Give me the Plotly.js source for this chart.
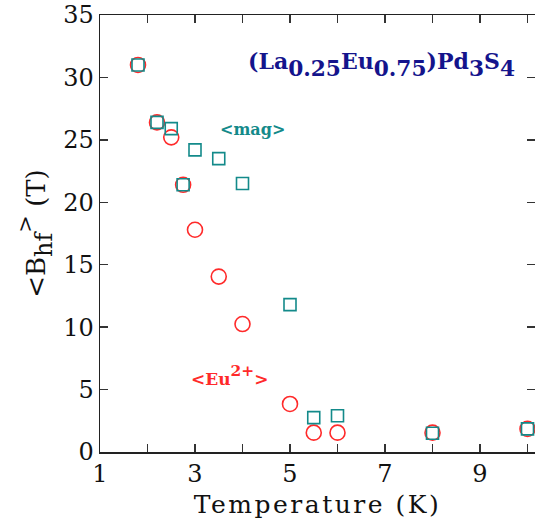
<!DOCTYPE html>
<html>
<head>
<meta charset="utf-8">
<script src="https://cdn.plot.ly/plotly-3.0.1.min.js"></script>
<style>
html,body{margin:0;padding:0;background:#fff;overflow:hidden;}
#chart{width:535px;height:525px;}
</style>
</head>
<body>
<div id="chart"></div>
<script>
// Temperature (K)
const temperature = [1.8, 2.2, 2.5, 2.75, 3.0, 3.5, 4.0, 5.0, 5.5, 6.0, 8.0, 10.0];
// <Eu2+> hyperfine field (T) - red circles
const bhfEu = [31.0, 26.4, 25.2, 21.4, 17.8, 14.05, 10.25, 3.85, 1.55, 1.55, 1.55, 1.85];
// <mag> hyperfine field (T) - teal squares
const bhfMag = [31.0, 26.4, 25.9, 21.4, 24.2, 23.5, 21.5, 11.8, 2.75, 2.9, 1.5, 1.85];

const xTickVals = [1, 2, 3, 4, 5, 6, 7, 8, 9, 10];
const xTickText = ["1", "", "3", "", "5", "", "7", "", "9", ""];
const yTickVals = [0, 5, 10, 15, 20, 25, 30, 35];

const FONT = "DejaVu Serif, Liberation Serif, serif";
const RED = "#ff2a2a";
const TEAL = "#138a8a";
const NAVY = "#14148c";

const traces = [
  {
    x: temperature, y: bhfEu, type: "scatter", mode: "markers", name: "<Eu2+>",
    marker: {symbol: "circle-open", size: 15, color: RED, line: {color: RED, width: 1.6}}
  },
  {
    x: temperature, y: bhfMag, type: "scatter", mode: "markers", name: "<mag>",
    marker: {symbol: "square-open", size: 12, color: TEAL, line: {color: TEAL, width: 1.6}}
  }
];

const axisCommon = {
  showline: true, linecolor: "#222", linewidth: 1.5,
  mirror: "ticks", ticks: "inside", ticklen: 8, tickwidth: 1.5, tickcolor: "#333",
  showgrid: false, zeroline: false,
  tickfont: {family: FONT, size: 24, color: "#111"}
};

function big(s, px) { return '<span style="font-size:' + px + 'px"><sub>' + s + '</sub></span>'; }

const layout = {
  width: 535, height: 525,
  margin: {l: 100, r: 0, t: 15, b: 73},
  paper_bgcolor: "#fff", plot_bgcolor: "#fff",
  showlegend: false,
  font: {family: FONT},
  xaxis: Object.assign({}, axisCommon, {
    range: [1, 10.158], tickmode: "array", tickvals: xTickVals, ticktext: xTickText,
    title: {text: '<span style="letter-spacing:2.5px">Temperature (K)</span>', font: {family: FONT, size: 25, color: "#111"}, standoff: 8}
  }),
  yaxis: Object.assign({}, axisCommon, {
    range: [0, 35], tickmode: "array", tickvals: yTickVals,
    title: {text: '&lt;B<span style="font-size:34px"><sub>hf</sub></span><span style="font-size:30px"><sup>&gt;</sup></span> (T)', font: {family: FONT, size: 26, color: "#111"}, standoff: 10}
  }),
  annotations: [
    {
      x: 4.08, y: 31.0, xref: "x", yref: "y", xanchor: "left", yanchor: "middle", showarrow: false,
      text: '<b>(La' + big('0.25', 31) + 'Eu' + big('0.75', 31) + ')Pd' + big('3', 31) + 'S' + big('4', 31) + '</b>',
      font: {family: FONT, size: 22, color: NAVY}
    },
    {
      x: 4.2, y: 25.8, xref: "x", yref: "y", xanchor: "center", yanchor: "middle", showarrow: false,
      text: "<b>&lt;mag&gt;</b>", font: {family: FONT, size: 16, color: TEAL}
    },
    {
      x: 3.72, y: 6.1, xref: "x", yref: "y", xanchor: "center", yanchor: "middle", showarrow: false,
      text: '<b>&lt;Eu<span style="font-size:22px"><sup>2+</sup></span>&gt;</b>', font: {family: FONT, size: 17, color: RED}
    }
  ]
};

Plotly.newPlot("chart", traces, layout, {displayModeBar: false, staticPlot: true});
</script>
</body>
</html>
